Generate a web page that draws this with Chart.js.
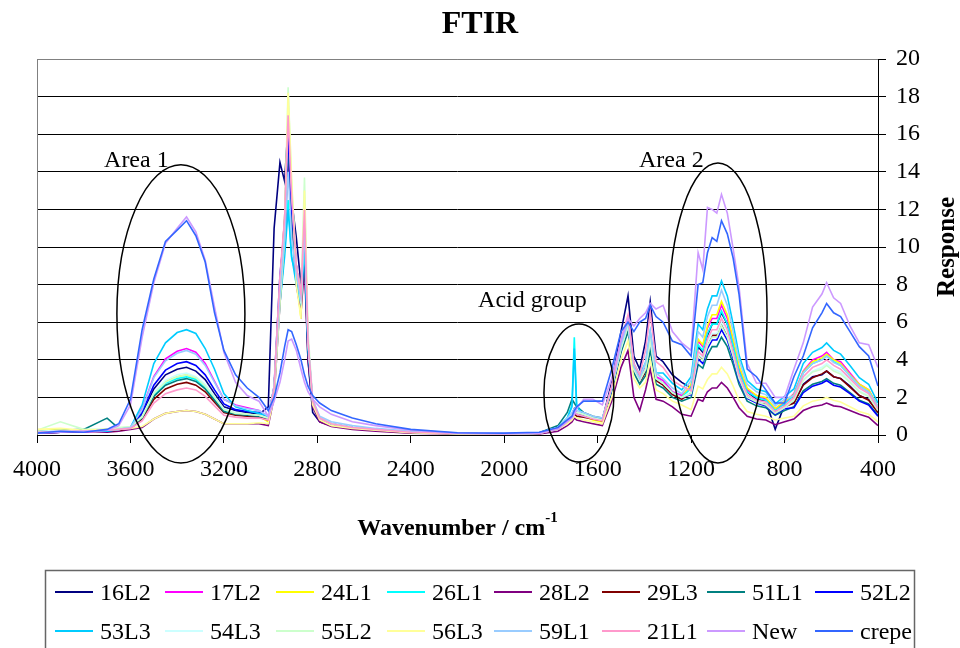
<!DOCTYPE html>
<html>
<head>
<meta charset="utf-8">
<script src="https://cdn.jsdelivr.net/npm/chart.js@4.4.1/dist/chart.umd.min.js"></script>
<style>
  html, body { margin: 0; padding: 0; background: #fff; }
  #wrap { width: 960px; height: 648px; }
</style>
</head>
<body>
<div id="wrap"><canvas id="ftir" width="960" height="648"></canvas></div>
<script>
// wavenumber grid (cm-1) shared by every spectrum
const wavenumbers = [
  4000, 3900, 3800, 3700, 3650, 3600,
  3550, 3500, 3450, 3400, 3360, 3320, 3280, 3240, 3200, 3150, 3100, 3050,
  3010, 2985, 2960, 2940, 2925, 2910, 2890, 2870, 2855, 2840, 2820, 2790, 2740, 2650, 2550, 2400, 2200, 2000, 1850,
  1770, 1730, 1710, 1700, 1690, 1660, 1620, 1580, 1540, 1500,
  1470, 1445, 1420, 1395, 1375, 1350, 1320, 1280, 1240,
  1200, 1170, 1150, 1130, 1110, 1090, 1070, 1045, 1020, 995, 960, 920, 880, 840, 800,
  760, 720, 680, 640, 620, 590, 560, 520, 480, 440, 400
];

const y16L2 = [
  0.1, 0.15, 0.2, 0.2, 0.3, 0.35,
  1.1, 2.45, 3.2, 3.5, 3.6, 3.4, 2.95, 2.2, 1.5, 1.3, 1.2, 1.1,
  1.5, 11.0, 14.5, 13.5, 16.5, 12.5, 10.5, 8.0, 9.5, 4.0, 1.2, 0.7, 0.5, 0.35, 0.25, 0.15, 0.05, 0.05, 0.1,
  0.4, 0.8, 1.1, 1.4, 1.2, 1.0, 0.9, 0.8, 2.8, 5.5,
  7.4, 4.2, 3.5, 5.0, 7.1, 4.2, 3.9, 3.2, 2.8,
  2.5, 4.7, 4.4, 5.3, 5.9, 5.9, 6.5, 5.9, 4.7, 3.4, 2.3, 1.9, 1.8, 0.3, 1.6,
  1.7, 2.7, 3.1, 3.2, 3.4, 3.1, 3.0, 2.6, 2.1, 1.9, 1.2
];
const y17L2 = [
  0.1, 0.2, 0.15, 0.25, 0.3, 0.4,
  1.4, 3.1, 4.05, 4.45, 4.6, 4.4, 3.8, 2.85, 1.9, 1.6, 1.45, 1.3,
  1.0, 2.5, 8.0, 11.0, 16.5, 12.4, 9.0, 7.2, 11.0, 5.0, 1.8, 0.9, 0.6, 0.4, 0.3, 0.15, 0.08, 0.05, 0.1,
  0.4, 0.8, 1.1, 1.3, 1.2, 1.1, 0.9, 0.8, 2.5, 5.0,
  6.2, 3.7, 3.1, 3.6, 5.2, 3.1, 2.9, 2.3, 2.1,
  2.6, 5.0, 4.7, 5.7, 6.2, 6.2, 6.9, 6.2, 5.0, 3.6, 2.4, 2.1, 1.9, 1.4, 1.7,
  2.2, 3.4, 4.0, 4.2, 4.4, 4.0, 3.9, 3.3, 2.7, 2.4, 1.5
];
const y24L1 = [
  0.2, 0.3, 0.2, 0.3, 0.3, 0.4,
  0.95, 2.2, 2.85, 3.1, 3.2, 3.0, 2.6, 2.0, 1.35, 1.15, 1.1, 1.0,
  0.7, 2.3, 7.5, 10.5, 17.5, 13.1, 8.5, 6.2, 12.0, 4.8, 1.6, 0.8, 0.5, 0.35, 0.25, 0.15, 0.08, 0.05, 0.1,
  0.3, 0.7, 1.0, 1.2, 1.1, 1.0, 0.8, 0.7, 2.4, 4.8,
  6.0, 3.6, 3.0, 3.5, 5.0, 3.0, 2.75, 2.25, 2.0,
  2.7, 5.1, 4.8, 5.8, 6.4, 6.4, 7.1, 6.4, 5.1, 3.7, 2.5, 2.1, 2.0, 1.4, 1.8,
  2.15, 3.35, 3.9, 4.1, 4.3, 4.0, 3.8, 3.2, 2.7, 2.4, 1.5
];
const y26L1 = [
  0.15, 0.2, 0.2, 0.25, 0.3, 0.4,
  0.95, 2.1, 2.75, 3.0, 3.1, 2.95, 2.55, 1.9, 1.3, 1.1, 1.05, 1.0,
  1.0, 2.5, 7.5, 10.0, 12.5, 9.4, 8.5, 7.0, 10.0, 4.8, 1.8, 0.9, 0.6, 0.4, 0.3, 0.15, 0.08, 0.05, 0.1,
  0.4, 0.9, 1.6, 5.2, 1.6, 1.1, 0.9, 0.8, 2.4, 4.6,
  5.8, 3.5, 2.9, 3.5, 5.0, 3.0, 2.75, 2.25, 2.0,
  2.5, 4.8, 4.5, 5.4, 5.9, 5.9, 6.6, 5.9, 4.75, 3.4, 2.3, 2.0, 1.85, 1.3, 1.65,
  2.1, 3.3, 3.8, 4.0, 4.2, 3.9, 3.7, 3.15, 2.6, 2.3, 1.5
];
const y28L2 = [
  0.1, 0.15, 0.2, 0.15, 0.2, 0.3,
  0.4, 0.85, 1.15, 1.25, 1.3, 1.25, 1.1, 0.85, 0.6, 0.6, 0.6, 0.6,
  0.5, 2.0, 7.0, 10.0, 15.0, 11.2, 8.0, 6.5, 9.0, 4.0, 1.5, 0.7, 0.45, 0.3, 0.2, 0.1, 0.05, 0.03, 0.05,
  0.2, 0.5, 0.7, 0.9, 0.8, 0.7, 0.6, 0.5, 1.8, 3.6,
  4.5, 2.0, 1.3, 2.4, 3.5, 1.9, 1.8, 1.5, 1.1,
  1.0, 1.9, 1.8, 2.3, 2.5, 2.5, 2.8, 2.5, 2.0, 1.45, 1.0, 0.85, 0.8, 0.55, 0.7,
  0.85, 1.3, 1.5, 1.6, 1.7, 1.55, 1.5, 1.3, 1.1, 0.95, 0.5
];
const y29L3 = [
  0.1, 0.15, 0.2, 0.2, 0.25, 0.35,
  0.85, 1.9, 2.45, 2.7, 2.8, 2.65, 2.3, 1.75, 1.2, 1.05, 1.0, 0.95,
  0.8, 2.5, 8.0, 11.5, 17.0, 12.8, 9.0, 7.0, 11.0, 4.8, 1.7, 0.9, 0.55, 0.4, 0.3, 0.15, 0.08, 0.05, 0.1,
  0.35, 0.75, 1.0, 1.1, 1.0, 0.95, 0.85, 0.75, 2.3, 4.5,
  5.6, 3.4, 2.8, 3.35, 4.8, 2.9, 2.65, 2.15, 1.9,
  2.25, 4.25, 4.0, 4.85, 5.3, 5.3, 5.9, 5.3, 4.25, 3.05, 2.05, 1.75, 1.65, 1.2, 1.5,
  1.7, 2.65, 3.05, 3.25, 3.4, 3.1, 3.0, 2.55, 2.1, 1.85, 1.2
];
const y51L1 = [
  0.2, 0.25, 0.3, 0.9, 0.35, 0.4,
  0.9, 2.05, 2.65, 2.9, 3.0, 2.85, 2.45, 1.85, 1.25, 1.1, 1.05, 1.0,
  0.9, 2.4, 7.5, 10.5, 15.5, 11.6, 8.5, 7.0, 10.0, 4.5, 1.7, 0.85, 0.55, 0.4, 0.3, 0.15, 0.08, 0.05, 0.12,
  0.5, 1.2, 1.9, 1.7, 1.5, 1.2, 1.0, 0.9, 2.3, 4.4,
  5.5, 3.3, 2.7, 3.15, 4.5, 2.7, 2.5, 2.0, 1.8,
  2.0, 3.75, 3.55, 4.25, 4.7, 4.7, 5.2, 4.7, 3.75, 2.7, 1.8, 1.55, 1.45, 1.05, 1.3,
  1.5, 2.35, 2.7, 2.85, 3.0, 2.75, 2.65, 2.25, 1.85, 1.65, 1.05
];
const y52L2 = [
  0.1, 0.15, 0.2, 0.2, 0.3, 0.35,
  1.2, 2.65, 3.45, 3.8, 3.9, 3.7, 3.2, 2.4, 1.65, 1.35, 1.25, 1.2,
  0.9, 2.6, 8.5, 11.0, 16.0, 12.0, 9.0, 7.2, 10.5, 4.7, 1.7, 0.9, 0.6, 0.4, 0.3, 0.15, 0.08, 0.05, 0.1,
  0.4, 0.8, 1.0, 1.2, 1.1, 1.0, 0.9, 0.8, 2.4, 4.6,
  5.8, 3.5, 2.9, 3.5, 5.0, 3.0, 2.75, 2.25, 2.0,
  2.15, 4.05, 3.8, 4.6, 5.05, 5.05, 5.6, 5.05, 4.05, 2.9, 1.95, 1.7, 1.55, 1.1, 1.4,
  1.45, 2.25, 2.6, 2.75, 2.9, 2.65, 2.55, 2.2, 1.8, 1.6, 1.0
];
const y53L3 = [
  0.15, 0.2, 0.25, 0.2, 0.3, 0.4,
  1.6, 3.8, 4.9, 5.45, 5.6, 5.4, 4.6, 3.5, 2.2, 1.5, 1.3, 1.15,
  1.0, 2.4, 7.0, 9.5, 12.0, 9.5, 8.0, 7.0, 10.0, 4.6, 1.8, 0.9, 0.6, 0.4, 0.3, 0.15, 0.08, 0.05, 0.1,
  0.4, 0.9, 1.5, 4.6, 1.5, 1.1, 0.9, 0.8, 2.5, 4.8,
  6.0, 3.8, 3.2, 3.85, 5.5, 3.3, 3.3, 2.75, 2.4,
  3.1, 5.9, 5.6, 6.7, 7.4, 7.4, 8.2, 7.4, 5.9, 4.25, 2.9, 2.45, 2.3, 1.65, 2.05,
  2.45, 3.8, 4.4, 4.65, 4.9, 4.5, 4.3, 3.7, 3.05, 2.7, 1.7
];
const y54L3 = [
  0.2, 0.25, 0.2, 0.3, 0.3, 0.4,
  1.0, 2.25, 2.9, 3.2, 3.3, 3.1, 2.7, 2.05, 1.4, 1.2, 1.1, 1.05,
  0.9, 2.5, 8.0, 11.0, 17.5, 13.0, 9.0, 7.0, 12.5, 5.0, 1.8, 0.9, 0.6, 0.4, 0.3, 0.15, 0.08, 0.05, 0.1,
  0.4, 0.8, 1.1, 1.2, 1.2, 1.1, 0.9, 0.8, 2.5, 4.6,
  5.8, 3.5, 2.9, 3.5, 5.0, 3.0, 2.75, 2.25, 2.0,
  2.3, 4.3, 4.1, 4.9, 5.4, 5.4, 6.0, 5.4, 4.3, 3.1, 2.1, 1.8, 1.7, 1.2, 1.5,
  1.9, 2.95, 3.4, 3.6, 3.8, 3.5, 3.35, 2.85, 2.35, 2.1, 1.35
];
const y55L2 = [
  0.25, 0.7, 0.3, 0.3, 0.4, 0.45,
  0.95, 2.2, 2.8, 3.1, 3.2, 3.05, 2.6, 2.0, 1.35, 1.15, 1.1, 1.05,
  0.9, 2.6, 8.0, 11.5, 18.5, 13.5, 9.0, 7.5, 13.7, 5.5, 1.9, 0.9, 0.6, 0.4, 0.3, 0.15, 0.08, 0.05, 0.1,
  0.4, 0.8, 1.1, 1.2, 1.2, 1.1, 0.9, 0.8, 2.5, 4.6,
  5.8, 3.5, 2.9, 3.5, 5.0, 3.0, 2.75, 2.25, 2.0,
  2.2, 4.2, 3.95, 4.75, 5.2, 5.2, 5.8, 5.2, 4.2, 3.0, 2.0, 1.75, 1.6, 1.15, 1.45,
  1.85, 2.9, 3.35, 3.5, 3.7, 3.4, 3.25, 2.8, 2.3, 2.05, 1.3
];
const y56L3 = [
  0.3, 0.35, 0.25, 0.3, 0.3, 0.35,
  0.45, 0.85, 1.15, 1.25, 1.3, 1.25, 1.1, 0.85, 0.6, 0.6, 0.6, 0.65,
  0.6, 2.0, 7.0, 10.5, 18.2, 13.5, 8.0, 6.2, 13.0, 5.0, 1.6, 0.8, 0.5, 0.35, 0.25, 0.12, 0.06, 0.04, 0.08,
  0.3, 0.6, 0.8, 1.0, 0.9, 0.8, 0.7, 0.6, 2.0, 4.0,
  5.0, 3.0, 2.5, 2.8, 4.0, 2.4, 2.2, 1.8, 1.6,
  1.35, 2.6, 2.45, 2.95, 3.25, 3.25, 3.6, 3.25, 2.6, 1.85, 1.25, 1.1, 1.0, 0.8, 0.9,
  1.0, 1.55, 1.8, 1.9, 2.0, 1.85, 1.75, 1.5, 1.25, 1.1, 0.7
];
const y59L1 = [
  0.15, 0.2, 0.2, 0.25, 0.3, 0.4,
  1.35, 3.05, 3.95, 4.35, 4.5, 4.3, 3.7, 2.8, 1.9, 1.55, 1.4, 1.3,
  1.0, 2.5, 7.5, 10.5, 14.0, 10.5, 8.5, 7.2, 11.0, 5.0, 1.9, 1.0, 0.7, 0.5, 0.35, 0.2, 0.1, 0.05, 0.1,
  0.4, 0.9, 1.2, 1.4, 1.3, 1.2, 1.0, 0.9, 2.5, 4.8,
  6.0, 3.6, 3.0, 3.85, 5.5, 3.3, 3.0, 2.5, 2.2,
  2.9, 5.5, 5.2, 6.3, 6.9, 6.9, 7.7, 6.9, 5.5, 4.0, 2.7, 2.3, 2.15, 1.55, 1.9,
  2.1, 3.3, 3.8, 4.0, 4.2, 3.85, 3.7, 3.15, 2.6, 2.3, 1.5
];
const y21L1 = [
  0.15, 0.2, 0.2, 0.25, 0.3, 0.35,
  0.75, 1.7, 2.2, 2.4, 2.5, 2.4, 2.05, 1.55, 1.05, 0.95, 0.9, 0.9,
  0.8, 2.5, 8.5, 11.5, 17.0, 12.7, 9.0, 7.5, 12.0, 5.0, 1.8, 0.9, 0.6, 0.4, 0.3, 0.15, 0.08, 0.05, 0.1,
  0.35, 0.75, 1.0, 1.2, 1.1, 1.0, 0.85, 0.75, 2.6, 5.1,
  6.4, 3.8, 3.2, 4.5, 6.5, 3.9, 3.6, 2.9, 2.6,
  2.35, 4.45, 4.2, 5.1, 5.6, 5.6, 6.2, 5.6, 4.45, 3.2, 2.15, 1.85, 1.75, 1.25, 1.55,
  2.0, 3.1, 3.6, 3.8, 4.0, 3.7, 3.5, 3.0, 2.5, 2.2, 1.4
];
const yNew = [
  0.1, 0.15, 0.2, 0.25, 0.5, 1.6,
  5.2, 8.1, 10.2, 11.0, 11.6, 10.8, 9.3, 6.8, 4.4, 2.8, 2.1, 1.8,
  1.0, 1.8, 2.8, 4.0, 5.0, 5.1, 4.5, 3.5, 2.8, 2.3, 1.9, 1.5, 1.1, 0.7, 0.5, 0.25, 0.1, 0.08, 0.1,
  0.3, 0.7, 0.9, 1.1, 1.4, 1.9, 1.9, 1.6, 3.0, 5.0,
  6.2, 5.8, 6.2, 6.5, 7.0, 6.7, 6.9, 5.5, 4.9,
  4.5, 9.7, 8.8, 12.1, 12.0, 11.8, 12.8, 11.8, 9.9, 7.9, 3.8, 2.75, 2.75, 2.0, 2.0,
  3.5, 4.9, 6.8, 7.5, 8.1, 7.3, 7.0, 5.8, 4.9, 4.8, 3.6
];
const yCrepe = [
  0.1, 0.2, 0.15, 0.3, 0.6, 1.9,
  5.6, 8.3, 10.3, 10.9, 11.4, 10.6, 9.2, 6.5, 4.5, 3.2, 2.5, 2.0,
  1.3, 2.0, 3.3, 4.7, 5.6, 5.5, 4.8, 4.0, 3.2, 2.6, 2.1, 1.7, 1.3, 0.9, 0.6, 0.3, 0.12, 0.1, 0.15,
  0.4, 0.8, 1.0, 1.3, 1.5, 1.8, 1.8, 1.8, 3.5, 5.5,
  6.0, 5.5, 6.0, 6.2, 6.9, 6.3, 6.0, 5.0, 4.8,
  4.2, 8.0, 8.1, 9.7, 10.5, 10.3, 11.4, 10.7, 9.4, 7.5, 3.5, 3.1, 2.4, 1.7, 1.7,
  3.1, 4.2, 5.7, 6.5, 7.0, 6.5, 6.3, 5.5, 4.7, 4.2, 2.6
];

const seriesNames = ['16L2', '17L2', '24L1', '26L1', '28L2', '29L3', '51L1', '52L2',
                     '53L3', '54L3', '55L2', '56L3', '59L1', '21L1', 'New', 'crepe'];
const seriesValues = [y16L2, y17L2, y24L1, y26L1, y28L2, y29L3, y51L1, y52L2,
                      y53L3, y54L3, y55L2, y56L3, y59L1, y21L1, yNew, yCrepe];
const seriesColors = ['#000080', '#FF00FF', '#FFFF00', '#00FFFF', '#800080', '#800000', '#008080', '#0000FF',
                      '#00CCFF', '#CCFFFF', '#CCFFCC', '#FFFF99', '#99CCFF', '#FF99CC', '#CC99FF', '#3366FF'];

const xTicks = [4000, 3600, 3200, 2800, 2400, 2000, 1600, 1200, 800, 400];
const yTicks = [0, 2, 4, 6, 8, 10, 12, 14, 16, 18, 20];

// ellipses and their captions, in data units
const ellipses = [
  { cx: 3384, cy: 6.44, rx: 274, ry: 7.93 },
  { cx: 1680, cy: 2.23, rx: 150, ry: 3.67 },
  { cx: 1085, cy: 6.49, rx: 210, ry: 7.98 }
];
const notes = [
  { text: 'Area 1', x: 3713, y: 14.26 },
  { text: 'Acid group', x: 2112, y: 6.8 },
  { text: 'Area 2', x: 1423, y: 14.26 }
];

const SERIF = "'Liberation Serif', 'Times New Roman', serif";
Chart.defaults.font.family = SERIF;
Chart.defaults.color = '#000';

const datasets = seriesNames.map((name, i) => ({
  label: name,
  data: wavenumbers.map((w, j) => ({ x: w, y: seriesValues[i][j] })),
  borderColor: seriesColors[i],
  backgroundColor: seriesColors[i],
  borderWidth: 1.6,
  pointRadius: 0,
  tension: 0,
  order: seriesNames.length - i
}));

const legendCols = [55, 165, 276, 387, 494, 602, 707, 815];

const overlay = {
  id: 'overlay',
  afterDraw(chart) {
    const { ctx, chartArea: a, scales: { x, y } } = chart;
    ctx.save();

    // grey frame on top and left like the Excel plot area
    ctx.strokeStyle = '#808080';
    ctx.lineWidth = 1;
    ctx.beginPath();
    ctx.moveTo(a.left + 0.5, a.bottom);
    ctx.lineTo(a.left + 0.5, a.top + 0.5);
    ctx.lineTo(a.right, a.top + 0.5);
    ctx.stroke();

    // ellipses
    ctx.strokeStyle = '#000';
    ctx.lineWidth = 1.5;
    ellipses.forEach(e => {
      const cx = x.getPixelForValue(e.cx);
      const cy = y.getPixelForValue(e.cy);
      const rx = Math.abs(x.getPixelForValue(e.cx + e.rx) - cx);
      const ry = Math.abs(y.getPixelForValue(e.cy + e.ry) - cy);
      ctx.beginPath();
      ctx.ellipse(cx, cy, rx, ry, 0, 0, Math.PI * 2);
      ctx.stroke();
    });

    ctx.fillStyle = '#000';
    ctx.textBaseline = 'alphabetic';
    ctx.textAlign = 'left';
    ctx.font = '24px ' + SERIF;
    notes.forEach(n => {
      ctx.fillText(n.text, x.getPixelForValue(n.x), y.getPixelForValue(n.y));
    });

    // title
    ctx.textAlign = 'center';
    ctx.font = 'bold 32px ' + SERIF;
    ctx.fillText('FTIR', 480, 33);

    // x axis title with superscript
    ctx.textAlign = 'left';
    const main = 'Wavenumber / cm';
    const sup = '-1';
    ctx.font = 'bold 24px ' + SERIF;
    const wMain = ctx.measureText(main).width;
    ctx.font = 'bold 15px ' + SERIF;
    const wSup = ctx.measureText(sup).width;
    const x0 = (a.left + a.right) / 2 - (wMain + wSup) / 2;
    ctx.font = 'bold 24px ' + SERIF;
    ctx.fillText(main, x0, 535);
    ctx.font = 'bold 15px ' + SERIF;
    ctx.fillText(sup, x0 + wMain, 522);

    // y axis title on the right, reading upwards
    ctx.save();
    ctx.translate(948, (a.top + a.bottom) / 2);
    ctx.rotate(-Math.PI / 2);
    ctx.textAlign = 'center';
    ctx.textBaseline = 'middle';
    ctx.font = 'bold 25px ' + SERIF;
    ctx.fillText('Response', 0, 0);
    ctx.restore();

    // legend box
    ctx.strokeStyle = '#666';
    ctx.lineWidth = 1.5;
    ctx.strokeRect(45.5, 570.5, 869, 100);
    ctx.font = '24px ' + SERIF;
    ctx.textAlign = 'left';
    ctx.textBaseline = 'alphabetic';
    seriesNames.forEach((name, i) => {
      const col = i % 8;
      const rowY = i < 8 ? 592 : 631;
      const lx = legendCols[col];
      ctx.strokeStyle = seriesColors[i];
      ctx.lineWidth = 2;
      ctx.beginPath();
      ctx.moveTo(lx, rowY);
      ctx.lineTo(lx + 38, rowY);
      ctx.stroke();
      ctx.fillStyle = '#000';
      ctx.fillText(name, lx + 45, rowY + 8);
    });

    ctx.restore();
  }
};

new Chart(document.getElementById('ftir'), {
  type: 'line',
  data: { datasets },
  plugins: [overlay],
  options: {
    responsive: false,
    animation: false,
    layout: { padding: { left: 37, right: 0, top: 59, bottom: 153 } },
    plugins: {
      legend: { display: false },
      title: { display: false },
      tooltip: { enabled: false }
    },
    scales: {
      x: {
        type: 'linear',
        reverse: true,
        min: 400,
        max: 4000,
        afterBuildTicks: s => { s.ticks = xTicks.map(v => ({ value: v })); },
        afterFit: s => { s.height = 60; },
        border: { color: '#000', width: 1 },
        grid: { drawOnChartArea: false, drawTicks: true, tickLength: 8, color: '#000' },
        ticks: {
          font: { size: 24 },
          padding: 12,
          maxRotation: 0,
          autoSkip: false,
          callback: v => String(v)
        }
      },
      y: {
        position: 'right',
        min: 0,
        max: 20,
        afterBuildTicks: s => { s.ticks = yTicks.map(v => ({ value: v })); },
        afterFit: s => { s.width = 82; },
        border: { color: '#000', width: 1 },
        grid: {
          color: c => (c.tick && c.tick.value === 20 ? '#808080' : '#000'),
          tickLength: 8,
          tickColor: '#000'
        },
        ticks: { font: { size: 24 }, padding: 10, callback: v => String(v) }
      }
    }
  }
});
</script>
</body>
</html>
